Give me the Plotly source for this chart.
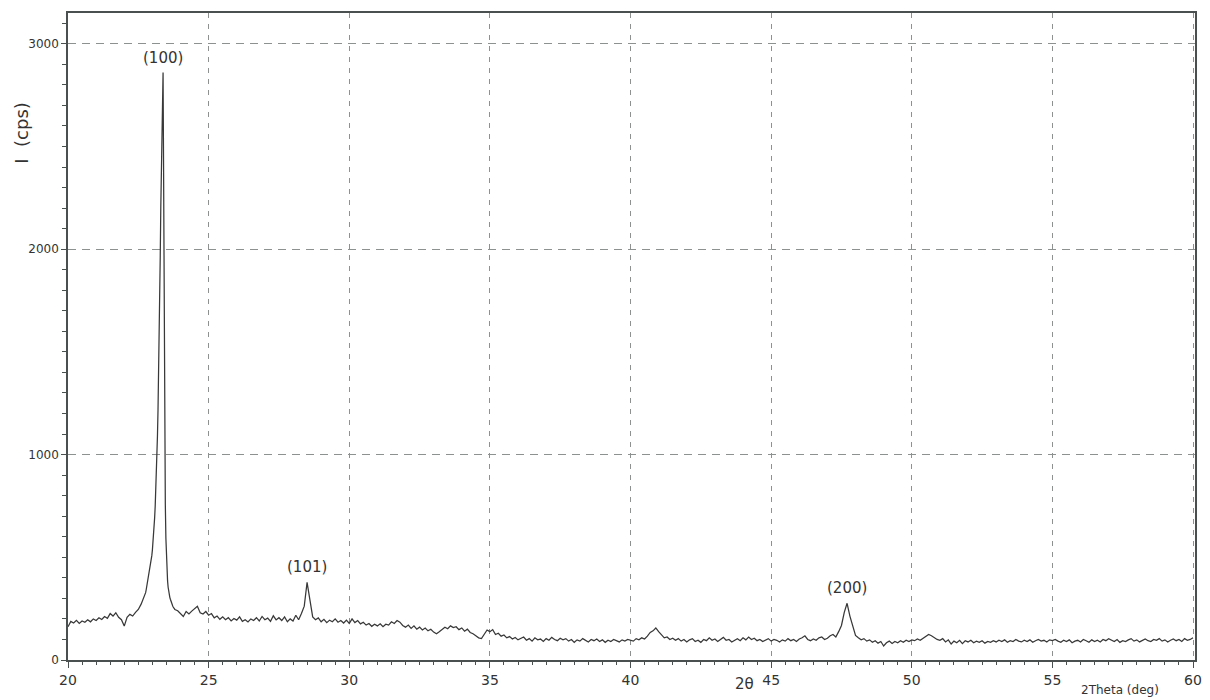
import numpy as np
import plotly.graph_objects as go

# ---- XRD scan: intensity (cps) read per scan segment -------------------
# segment: 20.0 -> 22.7 deg, step 0.1
seg1_start, seg1_step = 20.0, 0.1
seg1_counts = [162, 188, 180, 193, 178, 190, 184, 196, 186, 200,
               192, 206, 197, 212, 203, 226, 214, 230, 208, 196,
               165, 208, 222, 214, 232, 246, 272, 302]

# segment around the (100) reflection: 22.72 -> 23.80 deg, step 0.02
seg2_start, seg2_step = 22.72, 0.02
seg2_counts = [312, 318, 328, 342, 358, 372, 385, 396, 410, 426,
               444, 462, 484, 508, 535, 567, 603, 644, 692, 748,
               813, 890, 981, 1088, 1215, 1365, 1540, 1741, 1968, 2210,
               2450, 2661, 2807, 2860, 2342, 1550, 1042, 758, 594, 494,
               429, 385, 354, 331, 318, 305, 296, 284, 278, 268,
               264, 258, 255, 250, 246]

# segment: 23.9 -> 30.0 deg, step 0.1
seg3_start, seg3_step = 23.9, 0.1
seg3_counts = [240, 228, 212, 236, 224, 238, 252, 262, 230, 224,
               236, 218, 226, 205, 214, 198, 210, 196, 206, 190,
               202, 194, 210, 188, 196, 185, 200, 192, 206, 190,
               212, 196, 204, 188, 215, 195, 206, 192, 210, 186,
               200, 190, 218, 196, 226, 262, 378, 285, 210, 196,
               205, 186, 198, 182, 194, 186, 200, 184, 192, 180,
               194, 178]

# segment: 30.1 -> 40.0 deg, step 0.1
seg4_start, seg4_step = 30.1, 0.1
seg4_counts = [200, 182, 192, 176, 184, 170, 178, 164, 174, 166,
               176, 162, 174, 170, 186, 178, 192, 184, 168, 160,
               170, 154, 166, 150, 160, 146, 156, 142, 150, 136,
               128, 138, 148, 160, 152, 166, 158, 162, 148, 156,
               140, 150, 134, 128, 118, 108, 104, 126, 146, 138,
               148, 124, 130, 116, 122, 108, 114, 102, 110, 98,
               106, 112, 96, 104, 92, 108, 98, 102, 90, 104,
               96, 110, 100, 94, 106, 98, 104, 92, 100, 86,
               98, 92, 104, 96, 88, 100, 94, 102, 90, 98,
               86, 96, 90, 100, 94, 88, 98, 92, 100]

# segment: 40.1 -> 50.0 deg, step 0.1
seg5_start, seg5_step = 40.1, 0.1
seg5_counts = [92, 104, 98, 108, 102, 116, 134, 142, 156, 138,
               122, 108, 112, 100, 106, 96, 104, 92, 100, 88,
               98, 104, 90, 96, 86, 100, 94, 108, 96, 102,
               90, 98, 110, 96, 100, 88, 96, 104, 94, 108,
               98, 112, 100, 106, 94, 100, 90, 98, 104, 92,
               100, 96, 88, 98, 92, 104, 94, 100, 90, 102,
               108, 118, 100, 94, 102, 96, 108, 112, 100, 106,
               118, 124, 112, 138, 168, 232, 276, 214, 160, 120,
               108, 98, 104, 92, 98, 86, 94, 82, 90, 68,
               84, 92, 80, 90, 84, 94, 86, 96, 90]

# segment: 50.0 -> 60.0 deg, step 0.1
seg6_start, seg6_step = 50.0, 0.1
seg6_counts = [98, 94, 102, 96, 106, 112, 124, 118, 108, 100, 96,
               104, 88, 98, 78, 92, 84, 96, 80, 94, 88,
               96, 84, 92, 86, 94, 82, 90, 86, 94, 88,
               96, 90, 98, 86, 94, 90, 100, 92, 88, 96,
               90, 98, 86, 94, 100, 92, 96, 88, 98, 94,
               100, 92, 86, 96, 90, 98, 84, 92, 96, 88,
               100, 94, 86, 98, 90, 96, 88, 100, 94, 104,
               96, 90, 100, 86, 94, 90, 98, 104, 92, 98,
               88, 96, 102, 94, 90, 100, 96, 104, 92, 98,
               88, 96, 102, 94, 100, 90, 104, 96, 100, 108]

# Miller indices of the labelled reflections and their 2-theta positions
peak_labels = ["(100)", "(101)", "(200)"]
peak_positions = [23.38, 28.5, 47.7]

x_ticks = [20, 25, 30, 35, 40, 45, 50, 55, 60]
y_ticks = [0, 1000, 2000, 3000]


def scan_axis(start, step, counts):
    return np.round(start + step * np.arange(len(counts)), 2)


segments = [
    (seg1_start, seg1_step, seg1_counts),
    (seg2_start, seg2_step, seg2_counts),
    (seg3_start, seg3_step, seg3_counts),
    (seg4_start, seg4_step, seg4_counts),
    (seg5_start, seg5_step, seg5_counts),
    (seg6_start, seg6_step, seg6_counts),
]
two_theta = np.concatenate([scan_axis(s, d, c) for s, d, c in segments])
intensity = np.concatenate([np.asarray(c, dtype=float) for _, _, c in segments])

FONT = "DejaVu Sans"
INK = "#333333"
FRAME = "#4a4f4f"
GRID = "#8d9290"

fig = go.Figure()
fig.add_trace(go.Scatter(
    x=two_theta, y=intensity, mode="lines",
    line=dict(color="#383838", width=1.25),
    hoverinfo="x+y", showlegend=False,
))

annotations = []
for label, pos in zip(peak_labels, peak_positions):
    idx = int(np.argmin(np.abs(two_theta - pos)))
    annotations.append(dict(
        x=two_theta[idx], y=intensity[idx], xref="x", yref="y",
        text=label, showarrow=False, yanchor="bottom", yshift=4,
        font=dict(family=FONT, size=15, color=INK),
    ))

# axis captions
annotations.append(dict(
    x=0, y=0.815, xref="paper", yref="paper", xshift=-46,
    text="I  (cps)", textangle=-90, showarrow=False,
    xanchor="center", yanchor="middle",
    font=dict(family=FONT, size=18, color=INK),
))
annotations.append(dict(
    x=44.05, y=-0.037, xref="x", yref="paper",
    text="2θ", showarrow=False, xanchor="center", yanchor="middle",
    font=dict(family=FONT, size=15, color=INK),
))
annotations.append(dict(
    x=57.42, y=-0.047, xref="x", yref="paper",
    text="2Theta (deg)", showarrow=False, xanchor="center", yanchor="middle",
    font=dict(family=FONT, size=12, color=INK),
))

fig.update_layout(
    width=1210, height=700, autosize=False,
    margin=dict(l=68, r=8, t=13, b=40),
    paper_bgcolor="white", plot_bgcolor="white",
    annotations=annotations,
    xaxis=dict(
        range=[20, 60.07], tickvals=x_ticks,
        ticks="outside", ticklen=6, tickcolor=FRAME, tickwidth=1,
        tickfont=dict(family=FONT, size=14, color=INK),
        showgrid=True, gridcolor=GRID, griddash="5px,6px", gridwidth=1,
        minor=dict(dtick=0.5, ticks="outside", ticklen=3, tickcolor=FRAME,
                   showgrid=False),
        showline=True, linecolor=FRAME, linewidth=1.6, mirror=True,
        zeroline=False,
    ),
    yaxis=dict(
        range=[0, 3150], tickvals=y_ticks,
        ticks="outside", ticklen=5, tickcolor=FRAME, tickwidth=1,
        tickfont=dict(family=FONT, size=12, color=INK),
        showgrid=True, gridcolor=GRID, griddash="8px,6px", gridwidth=1,
        minor=dict(dtick=100, ticks="outside", ticklen=4, tickcolor=FRAME,
                   showgrid=False),
        showline=True, linecolor=FRAME, linewidth=1.6, mirror=True,
        zeroline=False,
    ),
)

fig.write_html("out.html")
